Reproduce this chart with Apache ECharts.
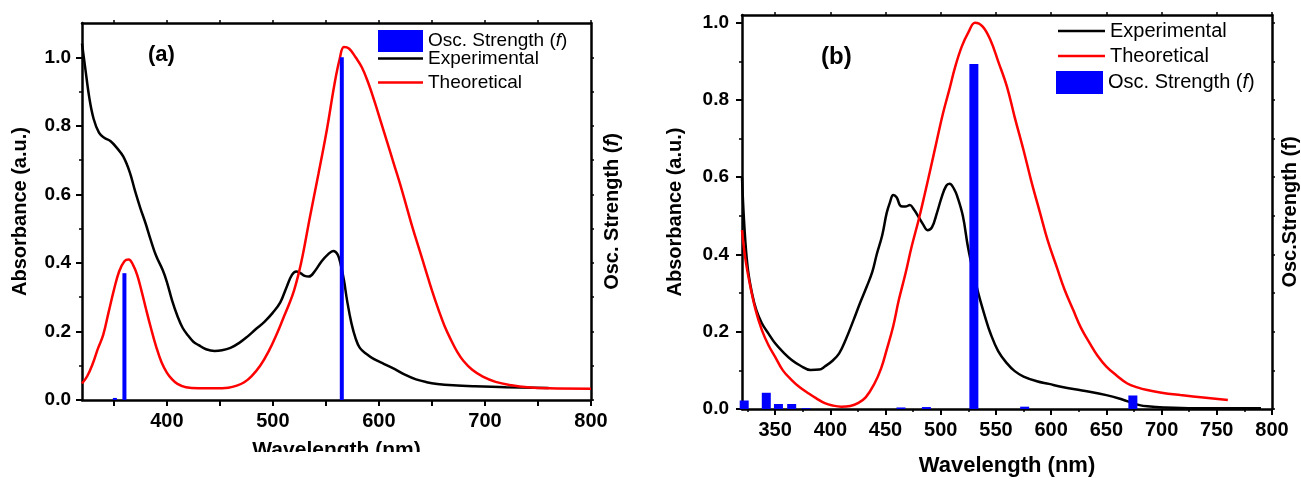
<!DOCTYPE html>
<html>
<head>
<meta charset="utf-8">
<script src="https://cdn.jsdelivr.net/npm/echarts@6/dist/echarts.min.js"></script>
<style>
  html, body { margin: 0; padding: 0; background: #fff; }
  #container { width: 1301px; height: 484px; }
</style>
</head>
<body>
<div id="container"></div>
<script>
// panel (a)
var expA = [[320,1.04],[323,0.97],[327,0.88],[331,0.82],[336,0.78],[341,0.765],[347,0.755],[353,0.735],
  [359,0.71],[365,0.665],[370,0.61],[375,0.56],[380,0.515],[385,0.465],[390,0.42],[396,0.38],[400,0.345],
  [405,0.29],[410,0.245],[415,0.21],[420,0.188],[425,0.17],[430,0.16],[437,0.148],[445,0.143],[452,0.145],
  [460,0.152],[468,0.166],[476,0.185],[484,0.207],[492,0.228],[500,0.255],[507,0.285],[513,0.33],[518,0.365],
  [522,0.375],[526,0.37],[530,0.362],[534,0.36],[540,0.378],[546,0.405],[552,0.425],[557,0.435],[561,0.425],
  [564,0.395],[567,0.35],[570,0.29],[574,0.225],[578,0.18],[582,0.152],[588,0.135],[595,0.12],[605,0.105],
  [615,0.09],[625,0.073],[635,0.06],[645,0.052],[655,0.047],[670,0.043],[690,0.04],[720,0.037],[760,0.035]];
var theoA = [[320,0.048],[325,0.07],[330,0.105],[335,0.15],[340,0.19],[345,0.255],[350,0.32],[355,0.375],
  [360,0.405],[364,0.41],[368,0.395],[372,0.365],[376,0.32],[380,0.27],[385,0.21],[390,0.155],[395,0.11],
  [400,0.08],[405,0.06],[410,0.047],[418,0.037],[430,0.034],[445,0.034],[458,0.036],[466,0.042],[473,0.052],
  [480,0.07],[488,0.1],[496,0.142],[504,0.195],[510,0.24],[516,0.285],[520,0.32],[524,0.365],[528,0.42],
  [535,0.535],[543,0.66],[551,0.79],[558,0.92],[563,0.995],[567,1.03],[572,1.025],[578,1.0],[584,0.97],
  [590,0.925],[596,0.87],[602,0.81],[608,0.75],[614,0.69],[620,0.63],[626,0.565],[632,0.5],[638,0.44],
  [644,0.38],[650,0.32],[656,0.265],[662,0.215],[668,0.175],[674,0.14],[680,0.113],[688,0.088],[698,0.068],
  [710,0.053],[725,0.043],[740,0.037],[760,0.034],[800,0.033]];
var oscA = [[351,0.006],[360,0.37],[565,1.0]];

// panel (b)
var expB = [[320,0.6],[322,0.48],[325,0.37],[329,0.3],[333,0.256],[338,0.222],[344,0.195],[350,0.17],
  [357,0.148],[365,0.127],[373,0.112],[382,0.101],[390,0.102],[395,0.11],[402,0.125],[408,0.144],[414,0.18],
  [421,0.23],[427,0.275],[433,0.317],[438,0.355],[442,0.4],[447,0.45],[451,0.507],[454,0.535],[457,0.554],
  [460,0.548],[464,0.525],[468,0.524],[472,0.528],[476,0.515],[480,0.497],[484,0.478],[488,0.463],[492,0.47],
  [496.5,0.507],[501,0.55],[505,0.578],[508,0.583],[512,0.57],[515,0.55],[520,0.5],[524.6,0.42],[529,0.36],
  [534,0.3],[540,0.24],[545,0.196],[552,0.15],[560,0.118],[567,0.098],[575,0.084],[587,0.072],[598,0.065],
  [610,0.057],[628,0.048],[650,0.036],[665,0.024],[673,0.016],[680,0.01],[687,0.007],[702,0.004],
  [730,0.002],[790,0.002]];
var theoB = [[320,0.463],[323,0.39],[327,0.325],[332,0.26],[338,0.204],[344,0.165],[350,0.135],[357,0.1],
  [365,0.075],[372,0.057],[380,0.041],[387,0.028],[395,0.015],[402,0.009],[410,0.006],[418,0.008],[425,0.015],
  [432,0.03],[440,0.066],[446,0.105],[451,0.153],[457,0.215],[462,0.282],[468,0.35],[473.6,0.42],[480,0.49],
  [485,0.55],[491,0.625],[496.5,0.696],[502,0.765],[507.7,0.826],[513,0.885],[519,0.938],[525,0.975],
  [531,1.0],[538,0.99],[545,0.955],[552,0.9],[560,0.834],[567,0.755],[575,0.67],[582,0.59],[590,0.507],
  [597,0.435],[605,0.368],[612,0.31],[620,0.256],[627,0.21],[635,0.17],[642,0.138],[650,0.11],[660,0.085],
  [669,0.066],[678,0.056],[687,0.049],[700,0.042],[717,0.036],[740,0.029],[760,0.023]];
var oscB = [[322,0.022],[342,0.042],[353,0.013],[365,0.013],[378,0.002],[464,0.004],[487,0.005],
  [530,0.893],[576,0.006],[674,0.035]];

// tick labels
var xLabelsA = [400, 500, 600, 700, 800];
var xTicksA = [350, 400, 450, 500, 550, 600, 650, 700, 750, 800];
var xLabelsB = [350, 400, 450, 500, 550, 600, 650, 700, 750, 800];
var xMinorB = [325, 375, 425, 475, 525, 575, 625, 675, 725, 775];
var yLabels = [0, 0.2, 0.4, 0.6, 0.8, 1.0];
var yMinor = [0.1, 0.3, 0.5, 0.7, 0.9];
var yRightTicks = [0, 0.1, 0.2, 0.3, 0.4, 0.5, 0.6, 0.7, 0.8, 0.9, 1.0];

var FONT = '"Liberation Sans", Arial, sans-serif';

function showCharts(dom){
	var myChart = echarts.init(dom);
	var lineW = 2.5;
	// legend swatches for the curves: a flat bar, no marker
	var lineIcon = 'path://M0,0H45V2.5H0Z';

	function bottomAxis(grid, labels, ticks, nameGap, nameSize){
		return {
			type: 'value', gridIndex: grid, position: 'bottom', min: 320, max: 800,
			name: 'Wavelength (nm)', nameLocation: 'middle', nameGap: nameGap,
			nameTextStyle: { fontFamily: FONT, fontWeight: 'bold', fontSize: nameSize, color: '#000' },
			axisLine: { show: true, onZero: false, lineStyle: { color: '#000', width: lineW } },
			axisTick: { show: true, customValues: ticks, length: 6, lineStyle: { color: '#000', width: 2 } },
			axisLabel: { customValues: labels, margin: 11, fontFamily: FONT, fontWeight: 'bold', fontSize: 20, color: '#000' },
			splitLine: { show: false }
		};
	}
	function plainX(grid, pos, ticks, len){
		return {
			type: 'value', gridIndex: grid, position: pos, min: 320, max: 800,
			axisLine: { show: pos === 'top', onZero: false, lineStyle: { color: '#000', width: lineW } },
			axisTick: { show: true, customValues: ticks, length: len, lineStyle: { color: '#000', width: 1.5 } },
			axisLabel: { show: false }, splitLine: { show: false }
		};
	}
	function leftAxis(grid, max, nameGap, margin){
		return {
			type: 'value', gridIndex: grid, position: 'left', min: 0, max: max,
			name: 'Absorbance (a.u.)', nameLocation: 'middle', nameGap: nameGap, nameRotate: 90,
			nameTextStyle: { fontFamily: FONT, fontWeight: 'bold', fontSize: 20, color: '#000' },
			axisLine: { show: true, onZero: false, lineStyle: { color: '#000', width: lineW } },
			axisTick: { show: true, customValues: yLabels, length: 6, lineStyle: { color: '#000', width: 2 } },
			axisLabel: { customValues: yLabels, margin: margin, fontFamily: FONT, fontWeight: 'bold', fontSize: 19, color: '#000',
				formatter: function(v){ return v.toFixed(1); } },
			splitLine: { show: false }
		};
	}
	function minorY(grid, max){
		return {
			type: 'value', gridIndex: grid, position: 'left', min: 0, max: max,
			axisLine: { show: false, onZero: false },
			axisTick: { show: true, customValues: yMinor, length: 3, lineStyle: { color: '#000', width: 1.5 } },
			axisLabel: { show: false }, splitLine: { show: false }
		};
	}
	function rightAxis(grid, max, name, nameGap){
		return {
			type: 'value', gridIndex: grid, position: 'right', min: 0, max: max,
			name: name, nameLocation: 'middle', nameGap: nameGap, nameRotate: 90,
			nameTextStyle: { fontFamily: FONT, fontWeight: 'bold', fontSize: 20, color: '#000',
				rich: { i: { fontFamily: FONT, fontWeight: 'bold', fontStyle: 'italic', fontSize: 20, color: '#000' } } },
			axisLine: { show: true, onZero: false, lineStyle: { color: '#000', width: lineW } },
			axisTick: { show: true, customValues: yRightTicks, length: 3, lineStyle: { color: '#000', width: 1.5 } },
			axisLabel: { show: false }, splitLine: { show: false }
		};
	}
	function legendItem(name, left, top, w, h, size, icon){
		return {
			data: [name], left: left, top: top, itemWidth: w, itemHeight: h, icon: icon || lineIcon,
			selectedMode: false, padding: 0, itemGap: 0,
			formatter: function(n){ return n === 'Osc. Strength (f)' ? 'Osc. Strength ({i|f})' : n; },
			textStyle: { fontFamily: FONT, fontSize: size, color: '#000',
				rich: { i: { fontFamily: FONT, fontSize: size, fontStyle: 'italic', color: '#000' } } }
		};
	}
	function lineSeries(name, xi, yi, data, color){
		return {
			name: name, type: 'line', xAxisIndex: xi, yAxisIndex: yi, data: data,
			symbol: 'none', smooth: 0.4, z: 2,
			lineStyle: { color: color, width: 2.5 }, itemStyle: { color: color }
		};
	}

	var option = {
		animation: false,
		backgroundColor: '#fff',
		grid: [
			{ left: 82, top: 23, width: 509, height: 377 },
			{ left: 742, top: 15, width: 530, height: 394 }
		],
		xAxis: [
			bottomAxis(0, xLabelsA, xTicksA, 40, 21),
			plainX(0, 'top', xTicksA, 3),
			bottomAxis(1, xLabelsB, xLabelsB, 46, 22),
			plainX(1, 'bottom', xMinorB, 3),
			plainX(1, 'top', xLabelsB, 3)
		],
		yAxis: [
			leftAxis(0, 1.1, 52, 11),
			minorY(0, 1.1),
			rightAxis(0, 1.1, 'Osc. Strength ({i|f})', 11),
			leftAxis(1, 1.02, 57, 13),
			minorY(1, 1.02),
			rightAxis(1, 1.02, 'Osc.Strength (f)', 8)
		],
		legend: [
			legendItem('Osc. Strength (f)', 378, 30, 45, 22, 19, 'rect'),
			legendItem('Experimental', 378, 49, 45, 22, 19),
			legendItem('Theoretical', 378, 73, 45, 22, 19),
			legendItem('Experimental', 1058, 21, 47, 22, 20),
			legendItem('Theoretical', 1058, 46, 47, 22, 20),
			legendItem('Osc. Strength (f)', 1056, 71, 47, 23, 20, 'rect')
		],
		graphic: [
			{ type: 'rect', z: 100, shape: { x: 0, y: 452, width: 650, height: 32 }, style: { fill: '#fff' } },
			{ type: 'text', z: 100, left: 148, top: 44, style: { text: '(a)', font: 'bold 22px ' + FONT, fill: '#000' } },
			{ type: 'text', z: 100, left: 821, top: 45, style: { text: '(b)', font: 'bold 24px ' + FONT, fill: '#000' } }
		],
		series: [
			lineSeries('Experimental', 0, 0, expA, '#000000'),
			lineSeries('Theoretical', 0, 0, theoA, '#ff0000'),
			{ name: 'Osc. Strength (f)', type: 'bar', xAxisIndex: 0, yAxisIndex: 2, data: oscA,
				barWidth: 4, z: 3, itemStyle: { color: '#0000ff' } },
			lineSeries('Experimental', 2, 3, expB, '#000000'),
			lineSeries('Theoretical', 2, 3, theoB, '#ff0000'),
			{ name: 'Osc. Strength (f)', type: 'bar', xAxisIndex: 2, yAxisIndex: 5, data: oscB,
				barWidth: 9, z: 3, itemStyle: { color: '#0000ff' } }
		]
	};
	if (option && typeof option === "object") {
		myChart.setOption(option, true);
	}
	return myChart;
}
showCharts(document.getElementById('container'));
</script>
</body>
</html>
